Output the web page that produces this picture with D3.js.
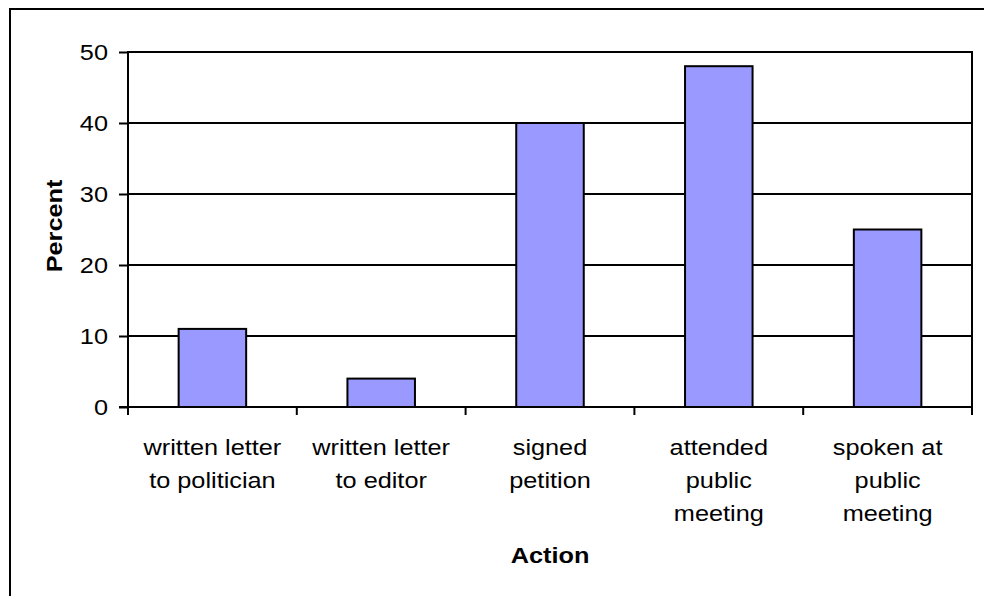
<!DOCTYPE html>
<html lang="en">
  <head>
    <meta charset="utf-8">
    <title>Action bar chart</title>
    <style>
      body { margin: 0; background: #fff; }
      svg text { font-family: "Liberation Sans", Arial, sans-serif; fill: #000; }
    </style>
  </head>
  <body>
    <svg width="984" height="596"></svg>

    <script src="https://d3js.org/d3.v7.min.js"></script>
    <script>

    // data
    var categories = [
      ["written letter", "to politician"],
      ["written letter", "to editor"],
      ["signed", "petition"],
      ["attended", "public", "meeting"],
      ["spoken at", "public", "meeting"]
    ];
    var percents = [11, 4, 40, 48, 25];
    var yTicks = [0, 10, 20, 30, 40, 50];

    var svg = d3.select("svg");
    var stretch = " scale(1.15,1)"; // the source text is a bit wide

    // outer chart frame (runs off the right and bottom)
    svg.append("rect")
        .attr("x", 10).attr("y", 9)
        .attr("width", 1100).attr("height", 1100)
        .attr("fill", "none").attr("stroke", "#000").attr("stroke-width", 2);

    var plotL = 128, plotR = 972, plotT = 52, plotB = 407;

    var x = d3.scaleBand()
        .domain(d3.range(categories.length))
        .range([plotL, plotR])
        .paddingInner(0).paddingOuter(0);

    var y = d3.scaleLinear()
        .domain([0, 50])
        .range([plotB, plotT]);

    var g = svg.append("g");

    // gridlines
    g.selectAll(".grid")
        .data(yTicks.filter(function(d) { return d > 0; }))
      .enter().append("line")
        .attr("x1", plotL).attr("x2", plotR)
        .attr("y1", function(d) { return y(d); })
        .attr("y2", function(d) { return y(d); })
        .attr("stroke", "#000").attr("stroke-width", 2);

    // right border of the plot
    g.append("line")
        .attr("x1", plotR).attr("x2", plotR)
        .attr("y1", plotT - 1).attr("y2", plotB + 8)
        .attr("stroke", "#000").attr("stroke-width", 2);

    // bars
    var barW = x.bandwidth() * 0.4;
    g.selectAll(".bar")
        .data(percents)
      .enter().append("rect")
        .attr("x", function(d, i) { return x(i) + (x.bandwidth() - barW) / 2; })
        .attr("y", function(d) { return y(d); })
        .attr("width", barW)
        .attr("height", function(d) { return y(0) - y(d); })
        .attr("fill", "#9999ff")
        .attr("stroke", "#000").attr("stroke-width", 2);

    // y axis
    var yAxis = svg.append("g")
        .attr("transform", "translate(" + plotL + ",0)")
        .call(d3.axisLeft(y).tickValues(yTicks).tickSize(9).tickFormat(function() { return ""; }));
    yAxis.select(".domain").attr("stroke-width", 2).attr("d", "M0," + (plotT - 1) + "V" + (plotB + 8));
    yAxis.selectAll(".tick line").attr("stroke-width", 2);

    svg.selectAll(".ylabel")
        .data(yTicks)
      .enter().append("text")
        .attr("text-anchor", "end")
        .attr("dy", "0.35em")
        .attr("font-size", 22)
        .attr("transform", function(d) { return "translate(108," + y(d) + ")" + stretch; })
        .text(function(d) { return d; });

    // x axis: ticks at category boundaries
    svg.append("line")
        .attr("x1", plotL - 9).attr("x2", plotR)
        .attr("y1", plotB).attr("y2", plotB)
        .attr("stroke", "#000").attr("stroke-width", 2);
    svg.selectAll(".xtick")
        .data(d3.range(categories.length))
      .enter().append("line")
        .attr("x1", function(i) { return x(i); })
        .attr("x2", function(i) { return x(i); })
        .attr("y1", plotB).attr("y2", plotB + 8)
        .attr("stroke", "#000").attr("stroke-width", 2);

    // category labels
    var labels = svg.selectAll(".xlabel")
        .data(categories)
      .enter().append("text")
        .attr("text-anchor", "middle")
        .attr("font-size", 22)
        .attr("transform", function(d, i) { return "translate(" + (x(i) + x.bandwidth() / 2) + ",455)" + stretch; });
    labels.selectAll("tspan")
        .data(function(d) { return d; })
      .enter().append("tspan")
        .attr("x", 0)
        .attr("y", function(d, j) { return j * 33; })
        .text(function(d) { return d; });

    // axis titles
    svg.append("text")
        .attr("transform", "translate(62,226) rotate(-90)" + stretch)
        .attr("text-anchor", "middle")
        .attr("font-size", 22).attr("font-weight", "bold")
        .text("Percent");

    svg.append("text")
        .attr("transform", "translate(550,563)" + stretch)
        .attr("text-anchor", "middle")
        .attr("font-size", 22).attr("font-weight", "bold")
        .text("Action");

    </script>
  </body>
</html>
